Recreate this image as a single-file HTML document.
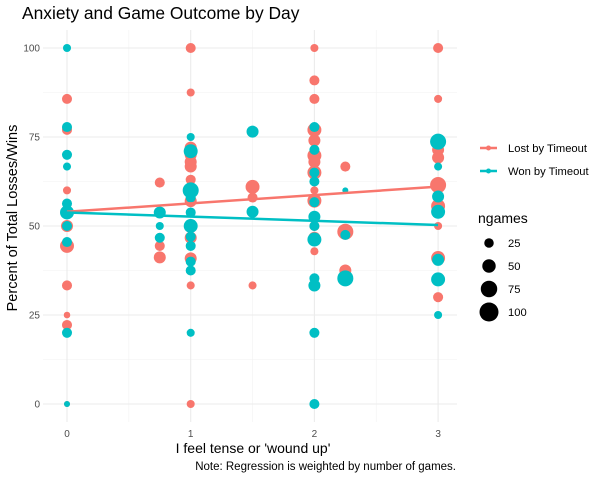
<!DOCTYPE html>
<html><head><meta charset="utf-8"><style>
body{margin:0;background:#fff;font-family:"Liberation Sans",sans-serif}
svg text{font-family:"Liberation Sans",sans-serif}
</style></head><body>
<svg id="chart" width="607" height="480" xmlns="http://www.w3.org/2000/svg"></svg>
<script>
const lostX=[0,0,0,0,0,0,0,0,0, 0.75,0.75,0.75, 1,1,1,1,1,1,1,1,1,1,1,1, 1.5,1.5,1.5, 2,2,2,2,2,2,2,2,2,2,2,2,2, 2.25,2.25,2.25, 3,3,3,3,3,3,3,3,3];
const lostY=[85.7,77,60,50,44.4,33.3,25,22.2,0, 62.2,44.4,41.2, 100,87.5,72,70,68,66.7,63,57,46.7,40.9,33.3,0, 61,58,33.3, 100,90.9,85.7,77,74,69.8,68,65,60,57.1,50,46.7,42.9, 66.7,48.4,37.5, 100,85.7,71.4,69.2,61.5,55.6,50,41,30];
const lostN=[28,28,18,40,54,28,12,28,10, 28,28,40, 28,18,40,40,40,40,28,40,40,40,18,18, 54,28,18, 18,28,28,54,40,54,40,54,18,54,28,40,18, 28,71,40, 28,18,40,40,71,54,18,54,28];
const wonX=[0,0,0,0,0,0,0,0,0,0, 0.75,0.75,0.75, 1,1,1,1,1,1,1,1,1,1,1, 1.5,1.5, 2,2,2,2,2,2,2,2,2,2,2,2, 2.25,2.25,2.25, 3,3,3,3,3,3,3];
const wonY=[100,77.8,70,66.7,56.3,53.8,50,45.5,20,0, 53.8,50,46.7, 75,71,60,58,53.8,50,47,44.4,40,37.5,20, 76.5,54, 77.8,71.4,65,62.5,56.7,52.6,50,46.2,35.3,33.3,20,0, 60,47.5,35.3, 73.7,66.7,58.3,54,40.5,35,25];
const wonN=[18,28,28,18,28,54,28,28,28,10, 40,18,28, 18,54,71,28,28,54,28,28,28,28,18, 40,40, 28,28,28,28,28,40,28,54,28,40,28,28, 10,28,71, 71,18,40,54,40,54,18];
const fitIntercept=[54,53.8];
const fitSlope=[2.35,-1.17];
const seriesNames=["Lost by Timeout","Won by Timeout"];
const seriesColors=["#F8766D","#00BFC4"];
const xTicks=[0,1,2,3];
const yTicks=[0,25,50,75,100];
const sizeBreaks=[25,50,75,100];

const NS="http://www.w3.org/2000/svg";
const svg=document.getElementById('chart');
const L=43,R=457,T=30,B=422;
const xs=v=>67+v*123.7;
const ys=v=>404-v*3.56;
const rs=n=>Math.sqrt(n)*0.95;
function mk(tag,attrs,parent){const e=document.createElementNS(NS,tag);for(const k in attrs)e.setAttribute(k,attrs[k]);(parent||svg).appendChild(e);return e;}

const grid=mk('g',{});


[0.5,1.5,2.5].forEach(v=>mk('line',{x1:xs(v),x2:xs(v),y1:T,y2:B,stroke:'#f2f2f2','stroke-width':0.6},grid));
[12.5,37.5,62.5,87.5].forEach(v=>mk('line',{x1:L,x2:R,y1:ys(v),y2:ys(v),stroke:'#f2f2f2','stroke-width':0.6},grid));
xTicks.forEach(v=>mk('line',{x1:xs(v),x2:xs(v),y1:T,y2:B,stroke:'#ebebeb','stroke-width':1.1},grid));
yTicks.forEach(v=>mk('line',{x1:L,x2:R,y1:ys(v),y2:ys(v),stroke:'#ebebeb','stroke-width':1.1},grid));

xTicks.forEach(v=>{const t=mk('text',{x:xs(v),y:437,'text-anchor':'middle','font-size':10,fill:'#4d4d4d'});t.textContent=v;
});
yTicks.forEach(v=>{const t=mk('text',{x:40,y:ys(v)+3.5,'text-anchor':'end','font-size':10,fill:'#4d4d4d'});t.textContent=v;
});

const pts=mk('g',{});


function drawPts(X,Y,N,c,name){for(let i=0;i<X.length;i++){const p=mk('circle',{cx:xs(X[i]),cy:ys(Y[i]),r:rs(N[i]),fill:c},pts);

}}
drawPts(lostX,lostY,lostN,seriesColors[0],'lost-point');
drawPts(wonX,wonY,wonN,seriesColors[1],'won-point');

for(let s=0;s<2;s++){const l=mk('line',{x1:xs(0),y1:ys(fitIntercept[s]),x2:xs(3),y2:ys(fitIntercept[s]+3*fitSlope[s]),stroke:seriesColors[s],'stroke-width':2.5});

}

let t=mk('text',{x:22,y:19,'font-size':17.4,fill:'#000'});t.textContent='Anxiety and Game Outcome by Day';

t=mk('text',{x:253,y:453,'text-anchor':'middle','font-size':14,fill:'#000'});t.textContent="I feel tense or 'wound up'";

t=mk('text',{x:0,y:0,'text-anchor':'middle','font-size':14.5,fill:'#000',transform:'translate(17,218) rotate(-90)'});t.textContent='Percent of Total Losses/Wins';

t=mk('text',{x:456,y:470,'text-anchor':'end','font-size':11.5,fill:'#000'});t.textContent='Note: Regression is weighted by number of games.';


for(let s=0;s<2;s++){const y=148+s*23;const g=mk('g',{});


mk('line',{x1:480,x2:497,y1:y,y2:y,stroke:seriesColors[s],'stroke-width':2.5},g);
mk('circle',{cx:488.5,cy:y,r:2.5,fill:seriesColors[s]},g);
const tx=mk('text',{x:508,y:y+4,'font-size':11.2,fill:'#000'},g);tx.textContent=seriesNames[s];}
t=mk('text',{x:478,y:223,'font-size':14,fill:'#000'});t.textContent='ngames';

sizeBreaks.forEach((n,i)=>{const y=243+i*23;const g=mk('g',{});


mk('circle',{cx:489,cy:y,r:rs(n),fill:'#000'},g);
const tx=mk('text',{x:508,y:y+4,'font-size':11.2,fill:'#000'},g);tx.textContent=n;});
</script>
</body></html>
